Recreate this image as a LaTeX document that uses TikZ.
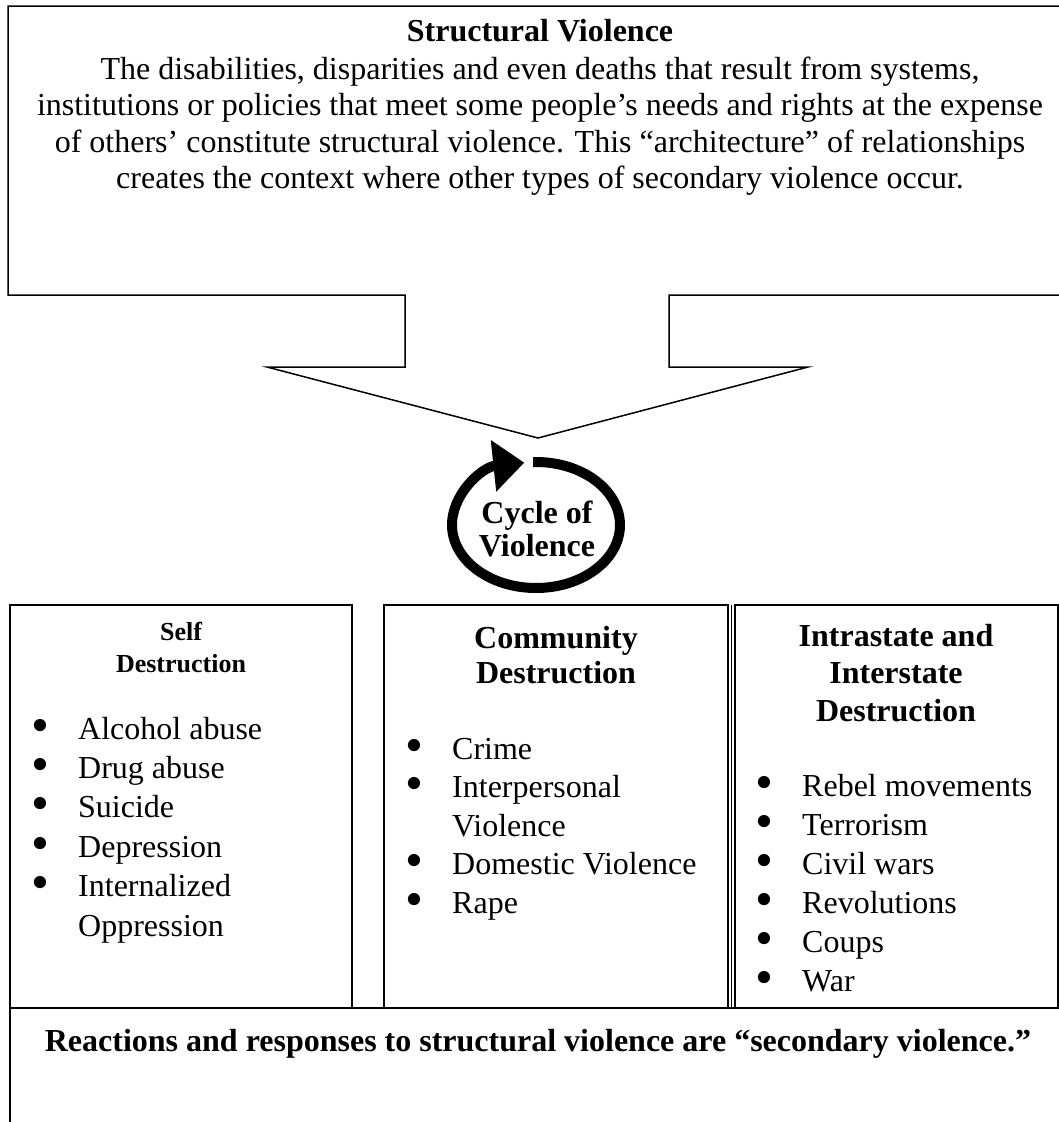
\documentclass[tikz,border=0pt]{standalone}
\usepackage{fontspec}
\setmainfont{Liberation Serif}
\usetikzlibrary{arrows.meta}
\newcommand{\bul}{\makebox[47pt][l]{\raisebox{-3pt}{\scalebox{1.6}{\textbullet}}}}
\newcommand{\bulgap}{\hspace*{47pt}}
\begin{document}
\begin{tikzpicture}[x=1pt, y=-1pt,
  frame/.style={line width=1.5pt},
  body/.style={font=\fontsize{32}{36.5}\selectfont, align=center, inner sep=0pt, anchor=base},
  head/.style={font=\bfseries\fontsize{32}{36.5}\selectfont, align=center, inner sep=0pt, anchor=base},
  list/.style={align=left, inner sep=0pt, anchor=base west}]
\useasboundingbox (0,0) rectangle (1059,1122);
% structural violence callout
\draw[frame, line join=miter] (1066,6) -- (8,6) -- (8,295) -- (405,295) -- (405,367) -- (267,367)
  -- (538,438) -- (808,367) -- (669,367) -- (669,295) -- (1066,295);
\node[head] (sv) at (540,41) {Structural Violence};
% multi-line nodes sit on their last baseline
\node[body] (svtext) at (540,188.5) {The disabilities, disparities and even deaths that result from systems,\\
  institutions or policies that meet some people’s needs and rights at the expense\\
  of others’ constitute structural violence. This “architecture” of relationships\\
  creates the context where other types of secondary violence occur.};
% cycle
\draw[line width=10pt, -{Triangle[length=31pt, width=50pt]}] (536,525) ++(268:84 and 63)
  arc[start angle=268, end angle=622, x radius=84, y radius=63];
\node[head, font=\bfseries\fontsize{32}{33}\selectfont] (cycle) at (537,556) {Cycle of\\Violence};
% three columns
\draw[frame] (10,605) rectangle (352,1008);
\draw[frame] (384,605) rectangle (728,1008);
\draw[line width=1pt] (731,605) -- (731,1008);
\draw[frame] (735,605) rectangle (1058,1008);
\node[head, font=\bfseries\fontsize{26}{32}\selectfont] (selfhead) at (181,672) {Self\\Destruction};
\node[list, font=\fontsize{32}{39.4}\selectfont] (selflist) at (31,936) {\bul Alcohol abuse\\
  \bul Drug abuse\\ \bul Suicide\\ \bul Depression\\ \bul Internalized\\ \bulgap Oppression};
\node[head, font=\bfseries\fontsize{32}{35}\selectfont] (commhead) at (556,683) {Community\\Destruction};
\node[list, font=\fontsize{32}{38.5}\selectfont] (commlist) at (405,913) {\bul Crime\\
  \bul Interpersonal\\ \bulgap Violence\\ \bul Domestic Violence\\ \bul Rape};
\node[head, font=\bfseries\fontsize{32}{37.5}\selectfont] (statehead) at (896,721) {Intrastate and\\Interstate\\Destruction};
\node[list, font=\fontsize{32}{39}\selectfont] (statelist) at (755,991) {\bul Rebel movements\\
  \bul Terrorism\\ \bul Civil wars\\ \bul Revolutions\\ \bul Coups\\ \bul War};
% secondary violence
\draw[frame] (1066,1008) -- (10,1008) -- (10,1128);
\node[head] (reactions) at (538,1051) {Reactions and responses to structural violence are “secondary violence.”};
\end{tikzpicture}
\end{document}
